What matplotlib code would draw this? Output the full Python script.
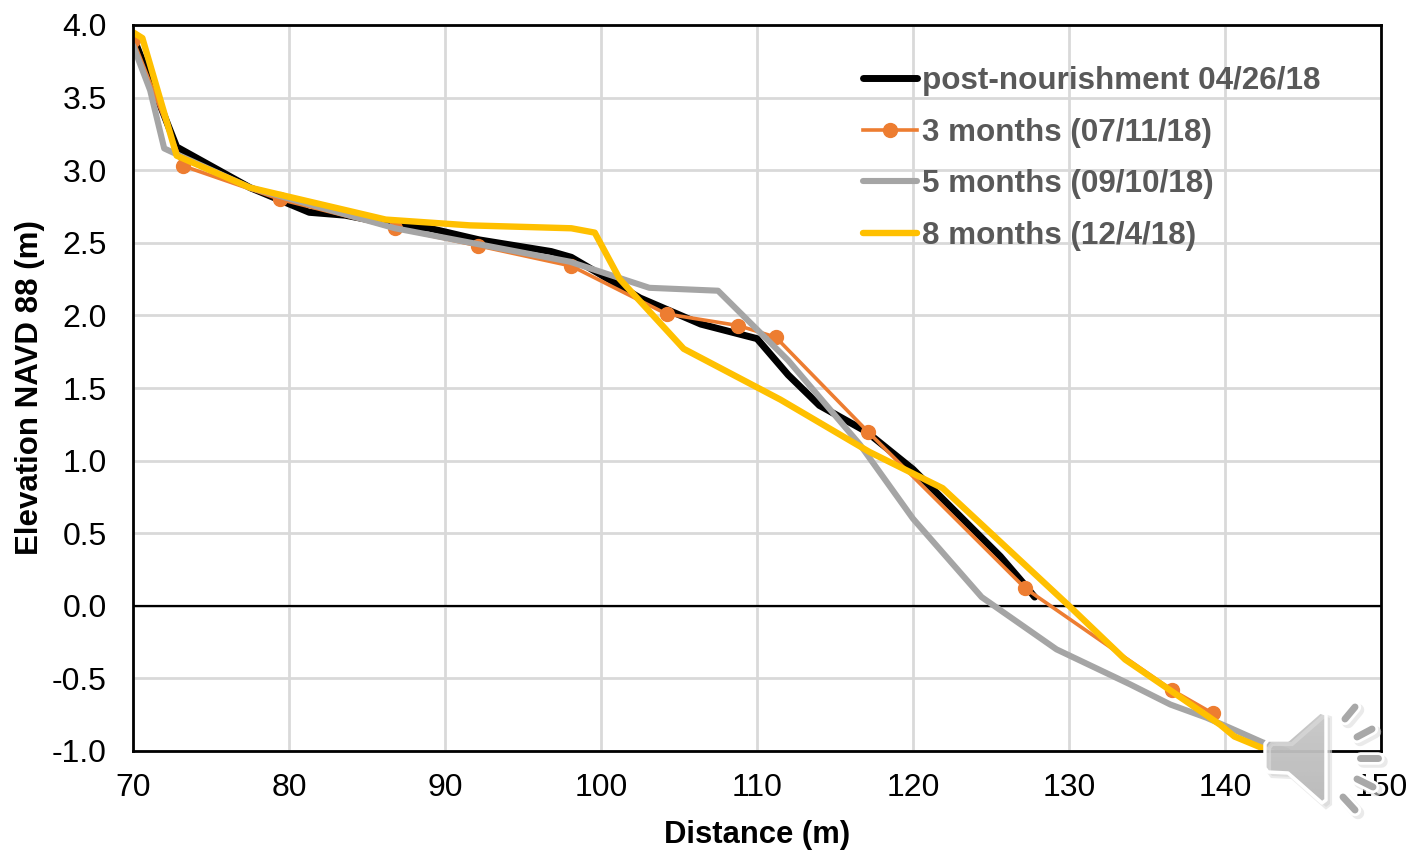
import matplotlib
matplotlib.use('Agg')
import matplotlib.pyplot as plt
import numpy as np
from matplotlib.patches import Polygon

plt.rcParams['font.family'] = ['Liberation Sans', 'DejaVu Sans']

post_x = [70, 72.8, 77.5, 81.3, 83.6, 87, 89, 92.2, 96.8, 98.1, 100, 102.5, 106.4, 110, 112, 114, 117, 120, 125.6, 127.2, 127.8]
post_y = [3.92, 3.16, 2.88, 2.71, 2.69, 2.62, 2.60, 2.52, 2.44, 2.40, 2.28, 2.12, 1.94, 1.84, 1.59, 1.38, 1.20, 0.94, 0.34, 0.14, 0.06]
m3_x = [70, 73.2, 79.4, 86.8, 92.1, 98.1, 104.2, 108.8, 111.2, 117.1, 127.2, 136.6, 139.2]
m3_y = [3.90, 3.03, 2.80, 2.60, 2.48, 2.34, 2.01, 1.93, 1.85, 1.20, 0.12, -0.58, -0.74]
m5_x = [70, 71.1, 72.0, 73.0, 77.5, 86.8, 98, 103.1, 107.5, 112, 116.6, 120, 124.4, 129.2, 133.9, 136.5, 138.8, 140.3, 142.4, 144]
m5_y = [3.86, 3.55, 3.15, 3.10, 2.88, 2.60, 2.37, 2.19, 2.17, 1.69, 1.11, 0.60, 0.06, -0.30, -0.54, -0.68, -0.77, -0.84, -0.94, -1.0]
m8_x = [70, 70.6, 72.8, 77.5, 86.2, 91.6, 98.1, 99.6, 101.2, 105.3, 111.5, 117.2, 121.9, 130, 133.6, 136.6, 139.7, 140.6, 142.4]
m8_y = [3.95, 3.91, 3.10, 2.88, 2.66, 2.62, 2.60, 2.57, 2.25, 1.77, 1.42, 1.06, 0.81, 0.0, -0.37, -0.59, -0.82, -0.90, -0.98]

labels = ['post-nourishment 04/26/18', '3 months (07/11/18)', '5 months (09/10/18)', '8 months (12/4/18)']

W, H = 1413, 850
fig = plt.figure(figsize=(W / 100, H / 100), dpi=100)
ax = fig.add_axes([133 / W, 1 - 751 / H, (1381 - 133) / W, (751 - 25) / H])

l1, = ax.plot(post_x, post_y, color='black', lw=5, solid_capstyle='round', zorder=3)
l2, = ax.plot(m3_x, m3_y, color='#ED7D31', lw=2.6, marker='o', ms=10, zorder=4)
l3, = ax.plot(m5_x, m5_y, color='#A5A5A5', lw=4.4, solid_capstyle='round', zorder=5)
l4, = ax.plot(m8_x, m8_y, color='#FFC000', lw=4.6, solid_capstyle='round', zorder=6)

ax.axhline(0, color='black', lw=1.6, zorder=2)
ax.set_xlim(70, 150)
ax.set_ylim(-1, 4)
ax.set_xticks(range(70, 151, 10))
ax.set_yticks([-1, -0.5, 0, 0.5, 1, 1.5, 2, 2.5, 3, 3.5, 4])
ax.set_yticklabels(['%.1f' % v for v in ax.get_yticks()])
ax.grid(color='#D9D9D9', lw=2)
ax.set_axisbelow(True)
ax.tick_params(length=0, labelsize=23)
ax.tick_params(axis='x', pad=16)
ax.tick_params(axis='y', pad=19)
for s in ax.spines.values():
    s.set_linewidth(2)
    s.set_zorder(7)

ax.set_xlabel('Distance (m)', fontsize=22.3, fontweight='bold', labelpad=12)
ax.set_ylabel('Elevation NAVD 88 (m)', fontsize=22.5, fontweight='bold', labelpad=5)

leg = ax.legend([l1, l2, l3, l4], labels, loc='upper left', bbox_to_anchor=(0.585, 0.9435),
                frameon=False, fontsize=22.6, labelspacing=0.685, handlelength=1.72,
                handletextpad=0.16, borderaxespad=0, borderpad=0)
for t in leg.get_texts():
    t.set_color('#595959')
    t.set_fontweight('bold')

# speaker icon on top of everything, overlay axes in image pixels
ov = fig.add_axes([0, 0, 1, 1], zorder=20)
ov.set_xlim(0, W)
ov.set_ylim(H, 0)
ov.axis('off')
ov.patch.set_alpha(0)

body = np.array([(1268, 740), (1288, 740), (1320, 712), (1326, 714), (1326, 800), (1322, 803),
                 (1288, 773), (1268, 772), (1265, 768), (1265, 744)])
ov.add_patch(Polygon(body + 4, closed=True, fc='#c8c8c8', ec='#dddddd', lw=3, alpha=0.6))
grad = np.linspace(0.78, 0.62, 64).reshape(-1, 1)
im = ov.imshow(grad, cmap='gray', vmin=0, vmax=1, extent=(1264, 1328, 805, 710), aspect='auto', alpha=0.88)
clip = Polygon(body, closed=True, transform=ov.transData)
im.set_clip_path(clip)
ov.add_patch(Polygon(body, closed=True, fc='none', ec='white', lw=2.5, joinstyle='round'))
ov.set_xlim(0, W)
ov.set_ylim(H, 0)
for x0, y0, x1, y1 in [(1345, 719, 1355, 707), (1357, 737, 1372, 729), (1360, 758, 1378, 758),
                       (1357, 779, 1373, 787), (1343, 797, 1355, 810)]:
    ov.plot([x0 + 3, x1 + 3], [y0 + 3, y1 + 3], color='#dddddd', lw=9, solid_capstyle='round', alpha=0.6)
    ov.plot([x0, x1], [y0, y1], color='white', lw=9, solid_capstyle='round')
    ov.plot([x0, x1], [y0, y1], color='#a8a8a8', lw=5, solid_capstyle='round')

fig.savefig('out.png', dpi=100)
